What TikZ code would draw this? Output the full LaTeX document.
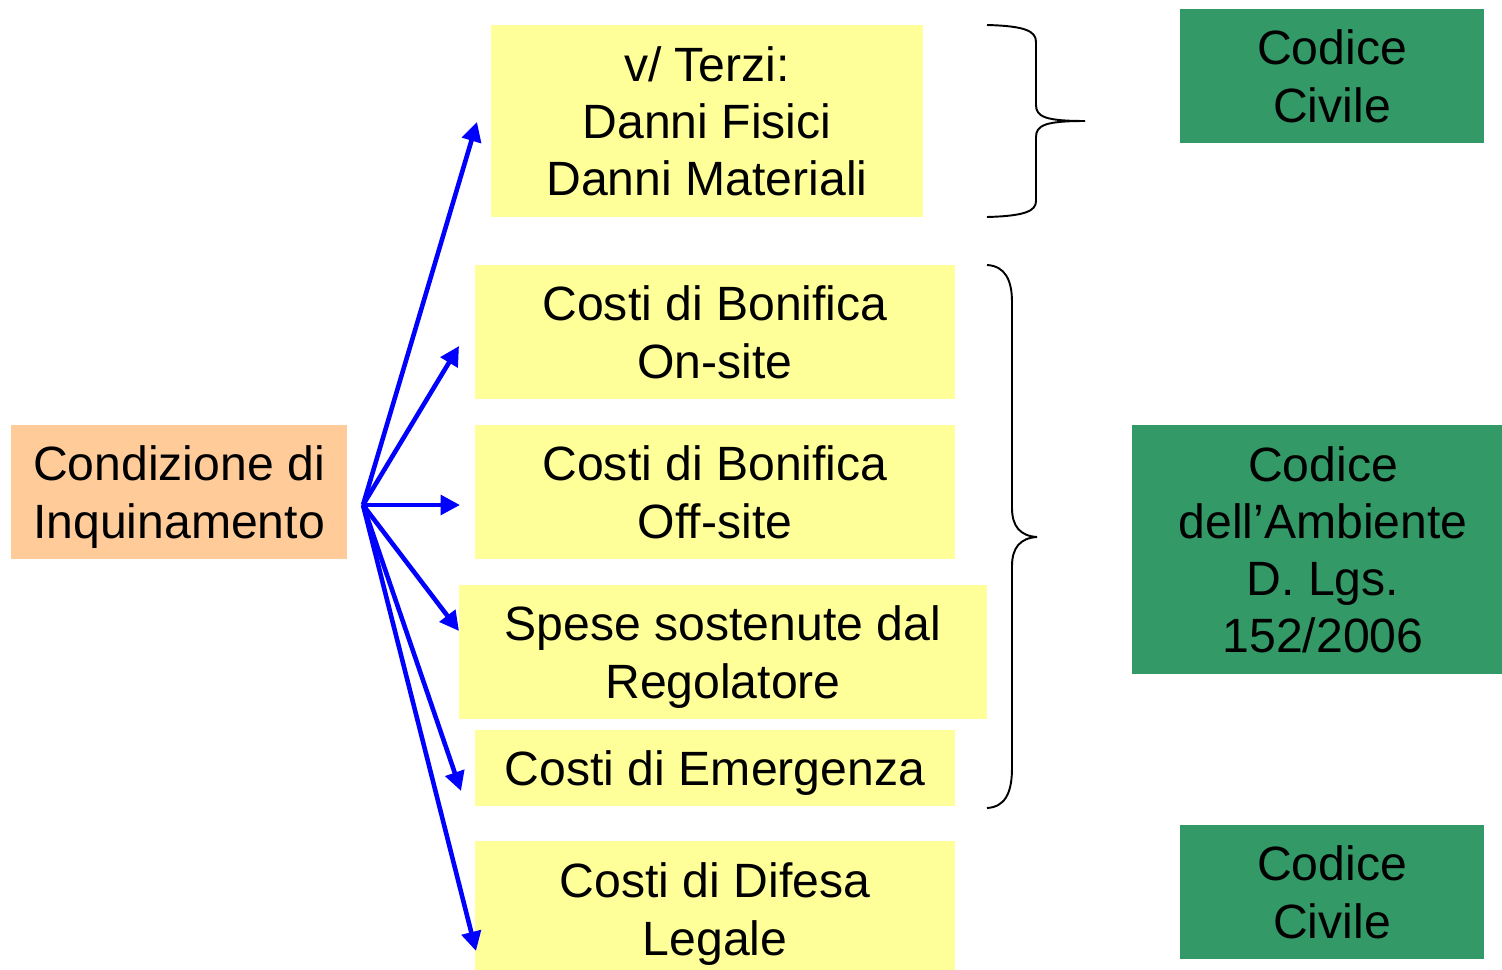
\documentclass[tikz,border=0pt]{standalone}
\usepackage{fontspec}
\setmainfont{Liberation Sans}
\usepackage{xcolor}
\usepackage{tikz}
\usetikzlibrary{positioning,arrows.meta}
\definecolor{boxyellow}{HTML}{FFFF99}
\definecolor{boxorange}{HTML}{FFCC99}
\definecolor{boxgreen}{HTML}{339966}

\begin{document}
\begin{tikzpicture}[x=0.02cm, y=-0.02cm,
    box/.style={inner sep=0pt, align=center, font=\fontsize{27.4pt}{32.6pt}\selectfont, text depth=0pt, minimum height=2.68cm},
    yellowbox/.style={box, fill=boxyellow, minimum width=9.6cm},
    greenbox/.style={box, fill=boxgreen, minimum width=6.08cm},
    link/.style={blue, line width=2.6pt, -{Triangle[length=11pt, width=11pt]}},
    brace/.style={line width=1.1pt}]
\useasboundingbox (0,0) rectangle (1502,970);

% Source
\node[box, fill=boxorange, minimum width=6.72cm, text depth=-2pt] (cond) at (179,492) {Condizione di\\Inquinamento};
\coordinate (hub) at (363,505);

% Cost items
\node[yellowbox, minimum width=8.64cm, minimum height=3.84cm] (terzi) at (707,121) {v/ Terzi:\\Danni Fisici\\Danni Materiali};
\node[yellowbox] (onsite) at (715,332) {Costi di Bonifica\\On-site};
\node[yellowbox] (offsite) at (715,492) {Costi di Bonifica\\Off-site};
\node[yellowbox, minimum width=10.56cm, text depth=-3pt] (regol) at (723,652) {Spese sostenute dal\\Regolatore};
\node[yellowbox, minimum height=1.52cm, text depth=-2pt] (emerg) at (715,768) {Costi di Emergenza};
\node[yellowbox, minimum height=2.72cm] (difesa) at (715,909) {Costi di Difesa\\Legale};

% Laws
\node[greenbox] (civ1) at (1332,76) {Codice\\Civile};
\node[greenbox, minimum width=7.64cm, minimum height=4.98cm] (amb) at (1323,549.5) {Codice\\dell’Ambiente\\D. Lgs.\\152/2006};
\node[greenbox] (civ2) at (1332,892) {Codice\\Civile};

% Arrow ends
\coordinate (a1) at (477,122);
\coordinate (a2) at (459,346);
\coordinate (a3) at (460,505);
\coordinate (a4) at (459,631);
\coordinate (a5) at (461,791);
\coordinate (a6) at (476,951);
\foreach \t in {a1,a2,a3,a4,a5,a6}
    \draw[link] (hub) -- (\t);

% Braces
\draw[brace] (987,25) .. controls (1025,26) and (1036,31) .. (1036,42) -- (1036,105)
    .. controls (1036,117) and (1046,121) .. (1085,121)
    .. controls (1046,121) and (1036,125) .. (1036,137) -- (1036,201)
    .. controls (1036,211) and (1025,216) .. (987,217);
\draw[brace] (987,265) .. controls (1005,266) and (1012,280) .. (1012,302) -- (1012,508)
    .. controls (1012,526) and (1020,536) .. (1037,537)
    .. controls (1020,538) and (1012,548) .. (1012,566) -- (1012,768)
    .. controls (1012,793) and (1005,807) .. (987,808);
\end{tikzpicture}
\end{document}
